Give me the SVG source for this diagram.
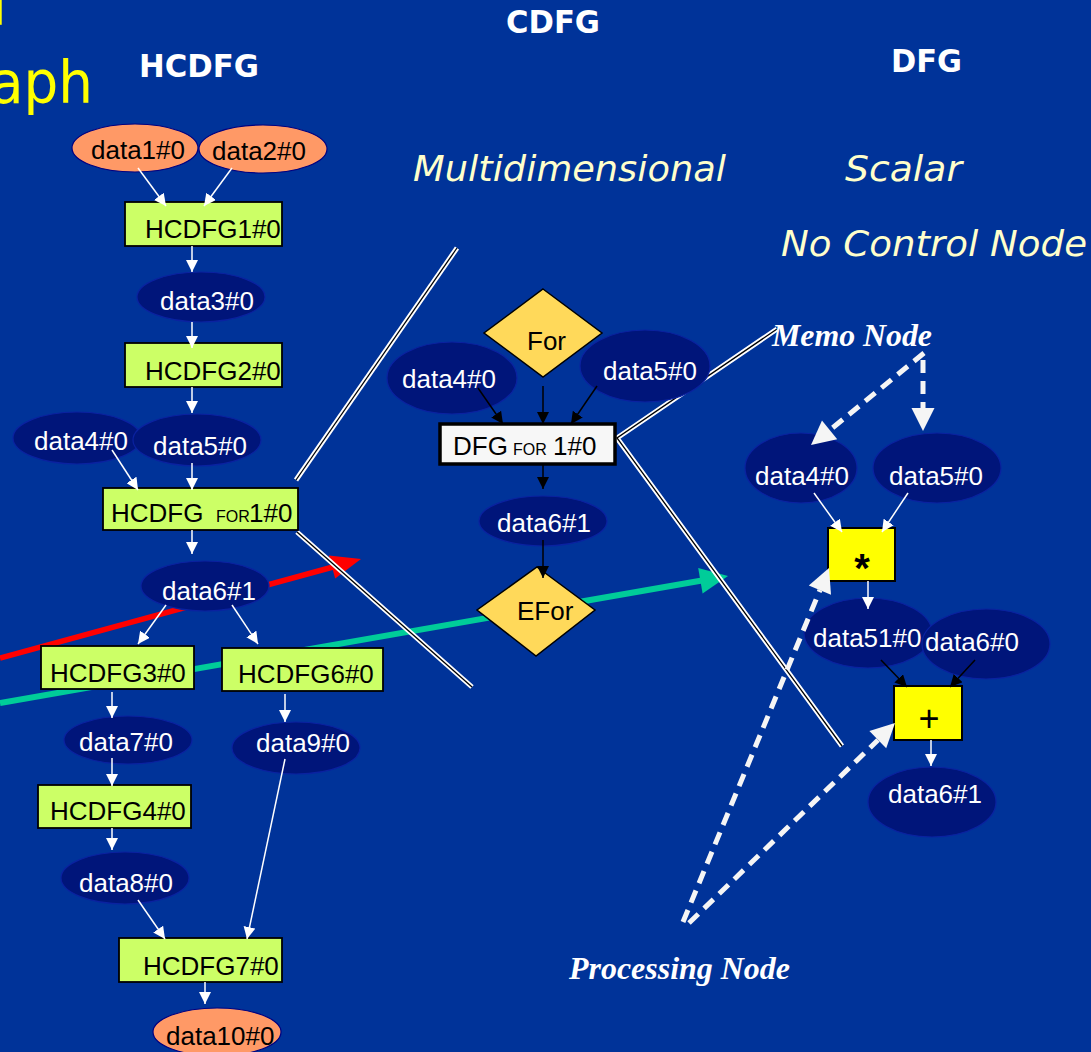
<svg xmlns="http://www.w3.org/2000/svg" width="1091" height="1052" viewBox="0 0 1091 1052">
  <defs>
    <style>
      .lbl { font-family: "Liberation Sans", Arial, sans-serif; font-size: 26px; }
      .w { fill: #FFFFFF; }
      .k { fill: #000000; }
      .small { font-size: 16px; }
      .opsym { font-family: "Liberation Sans", Arial, sans-serif; fill: #000000; text-anchor: middle; }
      .head { font-family: "DejaVu Sans", Verdana, sans-serif; font-weight: bold; fill: #FFFFFF; font-size: 32px; }
      .sub { font-family: "DejaVu Sans", Verdana, sans-serif; font-style: italic; fill: #FFFFCC; font-size: 35px; }
      .note { font-family: "Liberation Serif", "Times New Roman", serif; font-style: italic; font-weight: bold; fill: #FFFFFF; font-size: 31px; }
      .dnode { fill: #00157A; stroke: #0A22A0; stroke-width: 1.2; }
      .io { fill: #FF9966; stroke: #000080; stroke-width: 1.2; }
      .task { fill: #CCFF66; stroke: #000000; stroke-width: 1.8; }
      .ctrl { fill: #FFD95A; stroke: #000000; stroke-width: 1.5; }
      .op { fill: #FFFF00; stroke: #000000; stroke-width: 2; }
      .edge { stroke: #FFFFFF; stroke-width: 1.5; fill: none; marker-end: url(#wh); }
      .edgek { stroke: #000000; stroke-width: 1.5; fill: none; marker-end: url(#bh); }
      .zo { stroke: #FFFFFF; stroke-width: 5; fill: none; }
      .zi { stroke: #000000; stroke-width: 1.3; fill: none; }
      .dash { stroke: #F5F5F5; stroke-width: 5; fill: none; stroke-dasharray: 13 8; }
    </style>
    <marker id="wh" markerUnits="userSpaceOnUse" markerWidth="12" markerHeight="12" refX="12" refY="6" orient="auto">
      <path d="M0,0 L12,6 L0,12 Z" fill="#FFFFFF"/>
    </marker>
    <marker id="bh" markerUnits="userSpaceOnUse" markerWidth="12" markerHeight="12" refX="12" refY="6" orient="auto">
      <path d="M0,0 L12,6 L0,12 Z" fill="#000000"/>
    </marker>
  </defs>

  <rect x="0" y="0" width="1091" height="1052" fill="#003399"/>

  <!-- titles -->
  <g id="titles">
    <text x="-9" y="25" font-family="DejaVu Sans, Verdana, sans-serif" font-size="58" fill="#FFFF00">l</text>
    <text x="-10" y="103" font-family="DejaVu Sans, Verdana, sans-serif" font-size="58" fill="#FFFF00" textLength="103" lengthAdjust="spacingAndGlyphs">aph</text>
    <text class="head" x="139" y="77" textLength="120" lengthAdjust="spacingAndGlyphs">HCDFG</text>
    <text class="head" x="506" y="33" textLength="94" lengthAdjust="spacingAndGlyphs">CDFG</text>
    <text class="head" x="891" y="72" textLength="71" lengthAdjust="spacingAndGlyphs">DFG</text>
    <text class="sub" x="413" y="181" textLength="313" lengthAdjust="spacingAndGlyphs">Multidimensional</text>
    <text class="sub" x="845" y="181" textLength="117" lengthAdjust="spacingAndGlyphs">Scalar</text>
    <text class="sub" x="781" y="256" textLength="306" lengthAdjust="spacingAndGlyphs">No Control Node</text>
  </g>

  <!-- level transition arrows and zoom guides (behind the nodes) -->
  <g id="connectors-back">
    <line x1="0" y1="658" x2="333" y2="567" stroke="#FF0000" stroke-width="5.5"/>
    <polygon points="361,559 335.2,578.6 328.8,555.4" fill="#FF0000"/>
    <line x1="0" y1="703" x2="702" y2="580.5" stroke="#00CC99" stroke-width="6"/>
    <polygon points="728,576 702.6,593.6 698.2,568" fill="#00CC99"/>

    <path class="zo" d="M457,248 L296,480"/>
    <path class="zi" d="M457,248 L296,480"/>
    <path class="zo" d="M297,532 L472,687"/>
    <path class="zi" d="M297,532 L472,687"/>
    <path class="zo" d="M777,329 L617,438 L842,746"/>
    <path class="zi" d="M777,329 L617,438 L842,746"/>
  </g>

  <!-- HCDFG nodes -->
  <g id="n-data1"><ellipse class="io" cx="135" cy="148" rx="63" ry="24"/><text class="lbl k" x="91" y="159">data1#0</text></g>
  <g id="n-data2"><ellipse class="io" cx="263" cy="149" rx="64" ry="24"/><text class="lbl k" x="212" y="160">data2#0</text></g>
  <g id="n-hcdfg1"><rect class="task" x="125" y="202" width="157" height="44"/><text class="lbl k" x="145" y="238">HCDFG1#0</text></g>
  <g id="n-data3"><ellipse class="dnode" cx="201" cy="297" rx="64" ry="25"/><text class="lbl w" x="160" y="310">data3#0</text></g>
  <g id="n-hcdfg2"><rect class="task" x="125" y="343" width="157" height="44"/><text class="lbl k" x="145" y="380">HCDFG2#0</text></g>
  <g id="n-data4a"><ellipse class="dnode" cx="77" cy="438" rx="64" ry="26"/><text class="lbl w" x="34" y="450">data4#0</text></g>
  <g id="n-data5a"><ellipse class="dnode" cx="197" cy="440" rx="64" ry="26"/><text class="lbl w" x="153" y="455">data5#0</text></g>
  <g id="n-hcdfgfor"><rect class="task" x="103" y="488" width="195" height="42" stroke-width="3.5"/><text class="lbl k" x="111" y="522">HCDFG <tspan class="small" x="216">FOR</tspan><tspan x="249">1#0</tspan></text></g>
  <g id="n-data6a"><ellipse class="dnode" cx="205" cy="586" rx="64" ry="25"/><text class="lbl w" x="162" y="600">data6#1</text></g>
  <g id="n-hcdfg3"><rect class="task" x="41" y="646" width="153" height="43"/><text class="lbl k" x="50" y="682">HCDFG3#0</text></g>
  <g id="n-hcdfg6"><rect class="task" x="222" y="648" width="161" height="43"/><text class="lbl k" x="238" y="683">HCDFG6#0</text></g>
  <g id="n-data7"><ellipse class="dnode" cx="128" cy="740" rx="64" ry="24"/><text class="lbl w" x="79" y="751">data7#0</text></g>
  <g id="n-data9"><ellipse class="dnode" cx="296" cy="748" rx="64" ry="26"/><text class="lbl w" x="256" y="752">data9#0</text></g>
  <g id="n-hcdfg4"><rect class="task" x="38" y="785" width="153" height="43"/><text class="lbl k" x="50" y="820">HCDFG4#0</text></g>
  <g id="n-data8"><ellipse class="dnode" cx="125" cy="878" rx="64" ry="26"/><text class="lbl w" x="79" y="892">data8#0</text></g>
  <g id="n-hcdfg7"><rect class="task" x="119" y="938" width="163" height="44"/><text class="lbl k" x="143" y="975">HCDFG7#0</text></g>
  <g id="n-data10"><ellipse class="io" cx="217" cy="1032" rx="64" ry="24"/><text class="lbl k" x="166" y="1045">data10#0</text></g>

  <!-- CDFG nodes -->
  <g id="n-for"><polygon class="ctrl" points="543,289 602,333 543,377 484,333"/><text class="lbl k" x="527" y="350">For</text></g>
  <g id="n-data4b"><ellipse class="dnode" cx="452" cy="378" rx="65" ry="36"/><text class="lbl w" x="402" y="388">data4#0</text></g>
  <g id="n-data5b"><ellipse class="dnode" cx="645" cy="366" rx="65" ry="36"/><text class="lbl w" x="603" y="380">data5#0</text></g>
  <g id="n-dfgfor"><rect x="440" y="424" width="175" height="40" fill="#F7F7F7" stroke="#000000" stroke-width="3.5"/><text class="lbl k" x="453" y="455">DFG <tspan class="small" x="513">FOR</tspan><tspan x="553">1#0</tspan></text></g>
  <g id="n-data6b"><ellipse class="dnode" cx="543" cy="521" rx="64" ry="25"/><text class="lbl w" x="497" y="532">data6#1</text></g>
  <g id="n-efor"><polygon class="ctrl" points="537,567 595,610 536,656 477,610"/><text class="lbl k" x="517" y="620">EFor</text></g>

  <!-- DFG nodes -->
  <g id="n-data4c"><ellipse class="dnode" cx="801" cy="468" rx="56" ry="35"/><text class="lbl w" x="755" y="485">data4#0</text></g>
  <g id="n-data5c"><ellipse class="dnode" cx="937" cy="468" rx="64" ry="35"/><text class="lbl w" x="889" y="485">data5#0</text></g>
  <g id="n-mul"><rect class="op" x="828" y="528" width="67" height="53"/><text class="opsym" x="862" y="582" style="font-size:40px;font-weight:bold">*</text></g>
  <g id="n-data51"><ellipse class="dnode" cx="868" cy="633" rx="64" ry="35"/></g>
  <g id="n-data6c"><ellipse class="dnode" cx="986" cy="644" rx="64" ry="35"/><text class="lbl w" x="925" y="651">data6#0</text></g>
  <text class="lbl w" x="813" y="647">data51#0</text>
  <g id="n-add"><rect class="op" x="894" y="686" width="68" height="54"/><text class="opsym" x="929" y="731" style="font-size:36px">+</text></g>
  <g id="n-data6d"><ellipse class="dnode" cx="932" cy="802" rx="64" ry="35"/><text class="lbl w" x="888" y="803">data6#1</text></g>

  <!-- data and control edges -->
  <g id="connectors">
    <line class="edge" x1="138" y1="168" x2="166" y2="206"/>
    <line class="edge" x1="232" y1="168" x2="204" y2="206"/>
    <line class="edge" x1="192" y1="246" x2="192" y2="272"/>
    <line class="edge" x1="192" y1="322" x2="192" y2="348"/>
    <line class="edge" x1="192" y1="387" x2="192" y2="413"/>
    <line class="edge" x1="112" y1="450" x2="138" y2="490"/>
    <line class="edge" x1="192" y1="463" x2="192" y2="490"/>
    <line class="edge" x1="192" y1="530" x2="192" y2="554"/>
    <line class="edge" x1="166" y1="605" x2="138" y2="644"/>
    <line class="edge" x1="232" y1="605" x2="258" y2="644"/>
    <line class="edge" x1="112" y1="692" x2="112" y2="718"/>
    <line class="edge" x1="285" y1="694" x2="285" y2="722"/>
    <line class="edge" x1="112" y1="758" x2="112" y2="786"/>
    <line class="edge" x1="112" y1="828" x2="112" y2="850"/>
    <line class="edge" x1="138" y1="900" x2="165" y2="939"/>
    <line class="edge" x1="285" y1="759" x2="247" y2="939"/>
    <line class="edge" x1="205" y1="982" x2="205" y2="1004"/>

    <line class="edgek" x1="478" y1="388" x2="503" y2="424"/>
    <line class="edgek" x1="543" y1="386" x2="543" y2="424"/>
    <line class="edgek" x1="597" y1="386" x2="571" y2="424"/>
    <line class="edgek" x1="543" y1="464" x2="543" y2="489"/>
    <line class="edgek" x1="543" y1="540" x2="543" y2="578"/>

    <line class="edge" x1="814" y1="493" x2="842" y2="532"/>
    <line class="edge" x1="908" y1="493" x2="882" y2="532"/>
    <line class="edge" x1="868" y1="581" x2="868" y2="609"/>
    <line class="edgek" x1="881" y1="660" x2="907" y2="687"/>
    <line class="edgek" x1="975" y1="660" x2="950" y2="687"/>
    <line class="edge" x1="931" y1="740" x2="931" y2="766"/>
  </g>

  <!-- callouts -->
  <g id="callouts">
    <text class="note" x="772" y="346" textLength="160" lengthAdjust="spacingAndGlyphs">Memo Node</text>
    <text class="note" x="569" y="979" textLength="221" lengthAdjust="spacingAndGlyphs">Processing Node</text>
    <line class="dash" x1="924" y1="353" x2="830" y2="430"/>
    <polygon points="811,445 837.2,439.2 822,420.6" fill="#F5F5F5"/>
    <line class="dash" x1="923" y1="360" x2="923" y2="409"/>
    <polygon points="923,431 911.5,408 934.5,408" fill="#F5F5F5"/>
    <line class="dash" x1="683" y1="922" x2="820" y2="590"/>
    <polygon points="829,568 831,594.8 808.8,585.6" fill="#F5F5F5"/>
    <line class="dash" x1="689" y1="923" x2="878" y2="740"/>
    <polygon points="895,723 886.2,748.3 869.4,731.1" fill="#F5F5F5"/>
  </g>
</svg>
